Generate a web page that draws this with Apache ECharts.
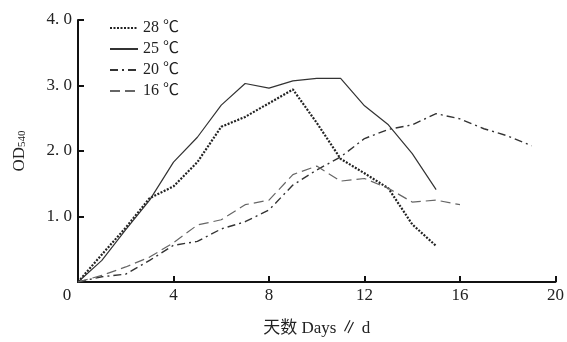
<!DOCTYPE html>
<html><head><meta charset="utf-8">
<script src="https://cdn.jsdelivr.net/npm/echarts@6/dist/echarts.min.js"></script>
<style>html,body{margin:0;padding:0;background:#fff}#c{width:567px;height:342px}</style>
</head><body><div id="c"></div>
<script>
const days = [0,1,2,3,4,5,6,7,8,9,10,11,12,13,14,15,16,17,18,19];
const s28 = [0,0.42,0.83,1.28,1.46,1.83,2.37,2.52,2.73,2.94,2.43,1.88,1.66,1.43,0.88,0.55];
const s25 = [0,0.33,0.80,1.25,1.83,2.21,2.70,3.03,2.96,3.07,3.11,3.11,2.69,2.40,1.96,1.41];
const s20 = [0,0.08,0.12,0.33,0.56,0.62,0.81,0.92,1.10,1.48,1.71,1.91,2.19,2.33,2.40,2.57,2.49,2.34,2.23,2.08];
const s16 = [0,0.10,0.23,0.38,0.60,0.87,0.95,1.18,1.25,1.64,1.77,1.54,1.58,1.43,1.22,1.25,1.18];
const names = ['28 ℃','25 ℃','20 ℃','16 ℃'];
const xTicks = [0,4,8,12,16,20];
const yTicks = [0,1,2,3,4];

const pairs = arr => arr.map((v,i)=>[days[i], v]);
const font = '"Liberation Serif", "Noto Sans CJK SC", serif';
const chart = echarts.init(document.getElementById('c'));
const mk = (i, data, color, width, type) => ({
  name:names[i], type:'line', data:pairs(data), symbol:'none', showSymbol:false,
  color:color, itemStyle:{color:color},
  lineStyle:{color:color,width:width,type:type}
});
chart.setOption({
  backgroundColor:'#fff',
  animation:false,
  textStyle:{fontFamily:font},
  grid:{left:78,right:11,top:20,bottom:57},
  legend:{
    orient:'vertical', left:104, top:15, itemWidth:28, itemHeight:10, itemGap:5,
    itemStyle:{opacity:0},
    textStyle:{fontFamily:font,fontSize:16,color:'#222'},
    data:names
  },
  xAxis:{
    type:'value', min:0, max:20, interval:4,
    axisLine:{lineStyle:{color:'#111',width:2}},
    axisTick:{inside:true,length:6,lineStyle:{color:'#111',width:2}},
    splitLine:{show:false},
    axisLabel:{fontFamily:font,fontSize:17,color:'#222',margin:5,
      formatter:v=> v===0 ? '{z|0}' : String(v),
      rich:{z:{fontFamily:font,fontSize:17,color:'#222',padding:[0,22,0,0]}}},
    name:'天数 Days ∥ d', nameLocation:'middle', nameGap:38,
    nameTextStyle:{fontFamily:font,fontSize:17,color:'#222'}
  },
  yAxis:{
    type:'value', min:0, max:4, interval:1,
    axisLine:{show:true,lineStyle:{color:'#111',width:2}},
    axisTick:{show:true,inside:true,length:6,lineStyle:{color:'#111',width:2}},
    splitLine:{show:false},
    axisLabel:{fontFamily:font,fontSize:17,color:'#222',margin:6,
      formatter:v=> v===0 ? '' : v.toFixed(1).replace('.', '. ')},
    name:'OD{s|540}', nameLocation:'middle', nameGap:50, nameRotate:90,
    nameTextStyle:{fontFamily:font,fontSize:17,color:'#222',
      rich:{s:{fontFamily:font,fontSize:11,color:'#222',verticalAlign:'bottom',padding:[6,0,0,0]}}}
  },
  series:[
    mk(0, s28, '#222', 2.2, [2,1.5]),
    mk(1, s25, '#333', 1.2, 'solid'),
    mk(2, s20, '#333', 1.4, [8,4,2,4]),
    mk(3, s16, '#666', 1.2, [10,5])
  ]
});
</script></body></html>
